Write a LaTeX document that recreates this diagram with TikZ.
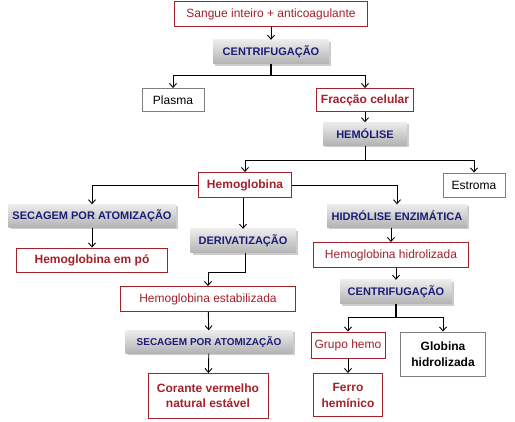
\documentclass[tikz,border=0pt]{standalone}
\usepackage{fontspec}
\setmainfont{Liberation Sans}
\usepackage{xcolor}
\definecolor{rred}{HTML}{A3212B}
\definecolor{nnavy}{HTML}{1C1C78}
\definecolor{ggray}{HTML}{7F7F7F}
\usepackage{tikz}
\usetikzlibrary{arrows.meta}
\usetikzlibrary{shadows}
\usetikzlibrary{positioning}

\tikzset{
  prod/.style={draw=rred, line width=0.9pt, text=rred, fill=white, inner sep=2pt,
    font=\fontsize{12}{14}\selectfont, align=center},
  prodb/.style={prod, font=\fontsize{12}{15}\selectfont\bfseries},
  side/.style={draw=ggray, line width=0.9pt, text=black, fill=white, inner sep=2pt,
    font=\fontsize{12}{15}\selectfont, align=center},
  proc/.style={inner sep=2pt, text=nnavy, font=\fontsize{11}{13}\selectfont\bfseries,
    top color=gray!15, middle color=white, bottom color=gray!60,
    drop shadow={shadow xshift=2pt, shadow yshift=-2pt, opacity=.4}},
  arr/.style={-{Straight Barb[length=4pt,width=7pt]}, line width=0.9pt},
  trunk/.style={line width=1.6pt}
}

\begin{document}
\begin{tikzpicture}[x=1pt,y=-1pt]
\useasboundingbox (0,0) rectangle (515,422);
% top
\node[prod, minimum width=193pt, minimum height=25pt] (sangue) at (271,14) {Sangue inteiro + anticoagulante};
\node[proc, minimum width=116pt, minimum height=24pt] (cent1) at (271,52) {CENTRIFUGAÇÃO};
\node[side, minimum width=62pt, minimum height=23pt] (plasma) at (173,100) {Plasma};
\node[prodb, minimum width=97pt, minimum height=23pt] (fraccao) at (365,100) {Fracção celular};
\node[proc, minimum width=84pt, minimum height=23pt] (hemolise) at (365,134) {HEMÓLISE};
\node[prodb, minimum width=93pt, minimum height=25pt] (hemoglobina) at (245,185) {Hemoglobina};
\node[side, minimum width=62pt, minimum height=24pt] (estroma) at (474,185) {Estroma};
% left branch
\node[proc, minimum width=167pt, minimum height=23pt] (secagem1) at (92,216) {SECAGEM POR ATOMIZAÇÃO};
\node[prodb, minimum width=151pt, minimum height=24pt] (hbpo) at (92,260) {Hemoglobina em pó};
% middle branch
\node[proc, minimum width=105pt, minimum height=24pt] (deriv) at (243,241) {DERIVATIZAÇÃO};
\node[prod, minimum width=175pt, minimum height=25pt] (estab) at (208,299) {Hemoglobina estabilizada};
\node[proc, minimum width=167pt, minimum height=23pt, font=\fontsize{10}{12}\selectfont\bfseries] (secagem2) at (209,342) {SECAGEM POR ATOMIZAÇÃO};
\node[prodb, minimum width=120pt, minimum height=45pt] (corante) at (208,396) {Corante vermelho\\natural estável};
% right branch
\node[proc, minimum width=140pt, minimum height=23pt] (hidrolise) at (397,216) {HIDRÓLISE ENZIMÁTICA};
\node[prod, minimum width=155pt, minimum height=25pt] (hidrol) at (391,255) {Hemoglobina hidrolizada};
\node[proc, minimum width=112pt, minimum height=24pt] (cent2) at (396,292) {CENTRIFUGAÇÃO};
\node[prod, minimum width=74pt, minimum height=26pt] (hemo) at (348,345) {Grupo hemo};
\node[side, minimum width=85pt, minimum height=44pt, font=\fontsize{12}{16}\selectfont\bfseries] (globina) at (443,354) {Globina\\hidrolizada};
\node[prodb, minimum width=69pt, minimum height=43pt, font=\fontsize{12}{16}\selectfont\bfseries] (ferro) at (348,395) {Ferro\\hemínico};
% junctions
\coordinate (j1) at (271,75);
\coordinate (j2) at (365,160);
\coordinate (j3) at (245,272);
\coordinate (j4) at (396,317);
% connectors
\draw[arr] (sangue) -- (cent1);
\draw[trunk] (cent1) -- (j1);
\draw[arr] (j1) -| (plasma);
\draw[arr] (j1) -| (fraccao);
\draw[arr] (fraccao) -- (hemolise);
\draw[line width=0.9pt] (hemolise) -- (j2);
\draw[arr] (j2) -| (hemoglobina);
\draw[arr] (j2) -| (estroma);
\draw[arr] (hemoglobina) -| (secagem1);
\draw[arr] (hemoglobina.south -| deriv.north) -- (deriv);
\draw[arr] (hemoglobina) -| (hidrolise);
\draw[arr] (secagem1) -- (hbpo);
\draw[arr] (deriv.south -| j3) -- (j3) -| (estab);
\draw[arr] (estab) -- (secagem2);
\draw[arr] (secagem2) -- (corante);
\draw[arr] (hidrolise.south -| hidrol.north) -- (hidrol);
\draw[arr] (hidrol.south -| cent2.north) -- (cent2);
\draw[trunk] (cent2) -- (j4);
\draw[arr] (j4) -| (hemo);
\draw[arr] (j4) -| (globina);
\draw[arr] (hemo) -- (ferro);
\end{tikzpicture}
\end{document}
